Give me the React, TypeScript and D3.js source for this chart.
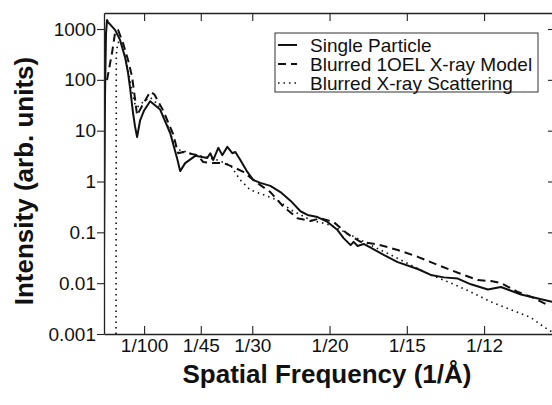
import { useEffect, useRef } from "react";
import * as d3 from "d3";

// axis ticks
const freqTicks = [1 / 100, 1 / 45, 1 / 30, 1 / 20, 1 / 15, 1 / 12];
const freqTickLabels = ["1/100", "1/45", "1/30", "1/20", "1/15", "1/12"];
const intensityTicks = [0.001, 0.01, 0.1, 1, 10, 100, 1000];
const intensityTickLabels = ["0.001", "0.01", "0.1", "1", "10", "100", "1000"];

const seriesNames = ["Single Particle", "Blurred 1OEL X-ray Model", "Blurred X-ray Scattering"];

// Single Particle
const singleFreq = [
  0.00135, 0.00157, 0.00178, 0.002, 0.00222, 0.00373, 0.00481, 0.00589, 0.00654, 0.00697,
  0.00762, 0.00805, 0.00849, 0.00914, 0.01, 0.0113, 0.01346, 0.01562, 0.01714, 0.01778,
  0.01886, 0.02103, 0.02276, 0.02362, 0.02427, 0.02492, 0.026, 0.02686, 0.02795, 0.02903,
  0.02968, 0.03076, 0.03227, 0.03357, 0.03508, 0.03724, 0.0394, 0.04157, 0.04373, 0.04524,
  0.04741, 0.04957, 0.05173, 0.05303, 0.05454, 0.05519, 0.05605, 0.05735, 0.05886, 0.06168,
  0.0647, 0.06903, 0.07184, 0.07465, 0.07768, 0.08049, 0.08416, 0.08697, 0.0913, 0.09497, 0.098,
];
const singleVal = [
  0.03, 50, 800, 1500, 1370, 960, 610, 280, 136, 70,
  22, 12, 7.5, 16, 25, 38, 26, 9, 2.8, 1.6,
  2.3, 3.2, 3.0, 2.9, 3.6, 2.65, 4.6, 3.3, 4.8, 3.6,
  3.8, 2.65, 1.54, 1.07, 0.94, 0.82, 0.62, 0.42, 0.26, 0.22,
  0.2, 0.16, 0.111, 0.077, 0.056, 0.065, 0.054, 0.059, 0.05, 0.036,
  0.026, 0.019, 0.0145, 0.013, 0.0123, 0.0095, 0.0075, 0.0084, 0.006, 0.005, 0.0043,
];

// Blurred 1OEL X-ray Model
const modelFreq = [
  0.002, 0.00308, 0.00373, 0.00438, 0.00546, 0.00654, 0.00741, 0.008, 0.00849, 0.0095,
  0.0113, 0.0122, 0.01411, 0.01627, 0.01735, 0.01843, 0.02146, 0.02276, 0.02492, 0.02708,
  0.02924, 0.03141, 0.03357, 0.03508, 0.03724, 0.04005, 0.04308, 0.04589, 0.04805, 0.05086,
  0.05389, 0.0567, 0.06038, 0.0647, 0.06903, 0.07335, 0.07768, 0.082, 0.08481, 0.08697,
  0.09065, 0.09411, 0.0973,
];
const modelVal = [
  99, 340, 830, 960, 530, 246, 114, 45, 20, 30,
  58, 52, 25, 8.5, 3.6, 3.8, 3.3, 2.42, 2.31, 2.31,
  1.93, 1.54, 1.07, 0.85, 0.62, 0.32, 0.19, 0.167, 0.19, 0.16,
  0.093, 0.065, 0.058, 0.045, 0.033, 0.0228, 0.016, 0.0115, 0.011, 0.0101,
  0.0067, 0.0051, 0.0036,
];

// Blurred X-ray Scattering
const scatterFreq = [
  0.00395, 0.004, 0.0043, 0.005, 0.006, 0.007, 0.0076, 0.00805, 0.00849, 0.01,
  0.0113, 0.013, 0.015, 0.0165, 0.01735, 0.01843, 0.01995, 0.02211, 0.02578, 0.02859,
  0.03076, 0.03292, 0.03573, 0.03876, 0.04157, 0.04589, 0.05022, 0.05454, 0.05886, 0.06319,
  0.06751, 0.07184, 0.07616, 0.08049, 0.08481, 0.08914, 0.09346, 0.09627, 0.098,
];
const scatterVal = [
  0.001, 300, 540, 560, 260, 95, 48, 33, 29, 38,
  45, 33, 13, 5.5, 4.2, 4.0, 3.6, 3.2, 2.65, 2.1,
  1.07, 0.68, 0.55, 0.43, 0.28, 0.175, 0.139, 0.089, 0.056, 0.036,
  0.0228, 0.0145, 0.0101, 0.0067, 0.0043, 0.003, 0.0021, 0.00137, 0.0011,
];

const App = () => {
  const ref = useRef<SVGSVGElement>(null);

  useEffect(() => {
    const width = 552;
    const height = 405;
    const plot = { left: 104, right: 553, top: 13, bottom: 334 };
    const font = "'Liberation Sans', Arial, Helvetica, sans-serif";
    const ink = "#111";

    const svg = d3.select(ref.current);
    svg.selectAll("*").remove();
    svg.attr("width", width).attr("height", height);

    const x = d3.scaleLinear().domain([0.00135, 0.0982]).range([plot.left, plot.right]);
    const y = d3.scaleLog().domain([0.001, 2065]).range([plot.bottom, plot.top]);

    svg
      .append("clipPath")
      .attr("id", "plotClip")
      .append("rect")
      .attr("x", plot.left)
      .attr("y", plot.top)
      .attr("width", plot.right - plot.left)
      .attr("height", plot.bottom - plot.top);

    const line = d3
      .line<[number, number]>()
      .x((d) => x(d[0]))
      .y((d) => y(d[1]));

    const series = [
      { freq: singleFreq, val: singleVal, dash: null, w: 2 },
      { freq: modelFreq, val: modelVal, dash: "8,5", w: 2 },
      { freq: scatterFreq, val: scatterVal, dash: "1.5,4", w: 1.6 },
    ];

    const lines = svg.append("g").attr("clip-path", "url(#plotClip)");
    series.forEach((s) => {
      const pts = s.freq.map((f, i) => [f, s.val[i]] as [number, number]);
      lines
        .append("path")
        .attr("d", line(pts))
        .attr("fill", "none")
        .attr("stroke", ink)
        .attr("stroke-width", s.w)
        .attr("stroke-linejoin", "round")
        .attr("stroke-dasharray", s.dash);
    });

    // axes
    const styleAxis = (g: any) => {
      g.select(".domain").attr("stroke", "#222").attr("stroke-width", 1.3);
      g.selectAll(".tick line").attr("stroke", "#222").attr("stroke-width", 1.1);
      g.selectAll(".tick text")
        .attr("font-family", font)
        .attr("font-size", 19)
        .attr("fill", ink);
    };

    svg
      .append("g")
      .attr("transform", `translate(${plot.left},0)`)
      .call(
        d3
          .axisLeft(y)
          .tickValues(intensityTicks)
          .tickFormat((d, i) => intensityTickLabels[i])
          .tickSizeInner(7)
          .tickSizeOuter(0)
          .tickPadding(1)
      )
      .call(styleAxis);

    svg
      .append("g")
      .attr("transform", `translate(0,${plot.bottom})`)
      .call(
        d3
          .axisBottom(x)
          .tickValues(freqTicks)
          .tickFormat((d, i) => freqTickLabels[i])
          .tickSizeInner(-8)
          .tickSizeOuter(0)
          .tickPadding(5)
      )
      .call(styleAxis);

    svg
      .append("g")
      .attr("transform", `translate(0,${plot.top})`)
      .call(d3.axisTop(x).tickValues(freqTicks).tickFormat(() => "").tickSizeInner(-8).tickSizeOuter(0))
      .call(styleAxis);

    svg
      .append("g")
      .attr("transform", `translate(${plot.right},0)`)
      .call(d3.axisRight(y).tickValues(intensityTicks).tickFormat(() => "").tickSizeInner(-5).tickSizeOuter(0))
      .call(styleAxis);

    // titles
    svg
      .append("text")
      .attr("transform", "translate(33,181) rotate(-90)")
      .attr("text-anchor", "middle")
      .attr("font-family", font)
      .attr("font-weight", "bold")
      .attr("font-size", 26)
      .attr("fill", ink)
      .text("Intensity (arb. units)");

    svg
      .append("text")
      .attr("x", 327)
      .attr("y", 383)
      .attr("text-anchor", "middle")
      .attr("font-family", font)
      .attr("font-weight", "bold")
      .attr("font-size", 26)
      .attr("fill", ink)
      .text("Spatial Frequency (1/Å)");

    // legend
    const legend = svg.append("g").attr("transform", "translate(275,33)");
    legend
      .append("rect")
      .attr("width", 263)
      .attr("height", 59)
      .attr("fill", "#fff")
      .attr("stroke", "#333")
      .attr("stroke-width", 1);
    seriesNames.forEach((name, i) => {
      const yy = 12 + i * 19;
      legend
        .append("line")
        .attr("x1", 3)
        .attr("x2", 22)
        .attr("y1", yy)
        .attr("y2", yy)
        .attr("stroke", ink)
        .attr("stroke-width", series[i].w)
        .attr("stroke-dasharray", series[i].dash);
      legend
        .append("text")
        .attr("x", 35)
        .attr("y", yy)
        .attr("dy", "0.35em")
        .attr("font-family", font)
        .attr("font-size", 19)
        .attr("fill", ink)
        .text(name);
    });
  }, []);

  return <svg ref={ref} style={{ position: "absolute", left: 0, top: 0 }} />;
};

export default App;
